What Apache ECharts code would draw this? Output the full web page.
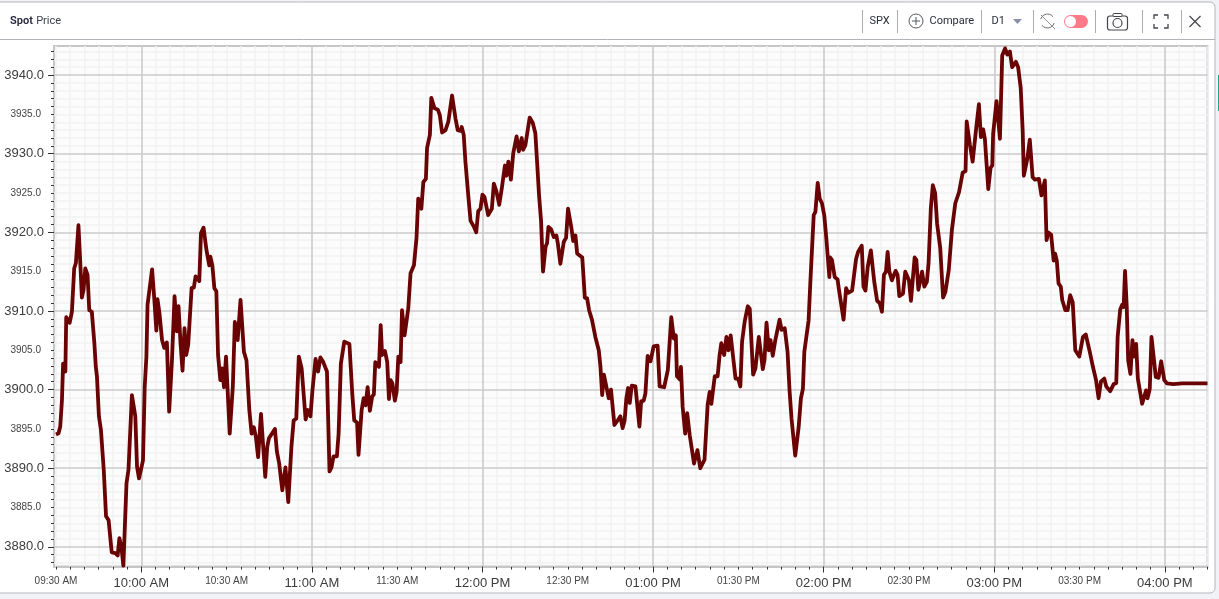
<!DOCTYPE html>
<html><head><meta charset="utf-8">
<style>html,body{margin:0;padding:0;background:#f0f2f8;width:1219px;height:599px;overflow:hidden}#c{width:1219px;height:599px}</style>
<script src="https://cdn.jsdelivr.net/npm/echarts@6/dist/echarts.min.js"></script>
</head><body><div id="c"></div>
<script>
// minutes after midnight
const times = [570,570.9,571.5,572.1,572.5,573.3,573.6,574.8,575.6,576.4,577,577.9,578.5,579.1,579.7,580.3,581.1,581.7,582.6,583.5,584,584.4,585.1,585.8,586.8,587.6,588.5,589.6,590.9,591.7,592.3,593,593.7,594.8,595.5,596.7,597.9,598.5,599.2,599.9,600.6,601.2,601.8,602.2,603.8,604.6,605.3,605.7,606.4,607.3,608.1,609,609.8,610.8,611.7,612.5,613.1,613.8,614.5,615.2,615.8,616.5,617.7,618.5,619.1,620.4,621,621.9,622.9,623.6,623.9,624.3,625,625.7,626.4,627,627.8,628.4,629.1,629.8,631.1,632.2,632.9,
633.9,634.9,636.1,637,638,638.8,639.6,640.3,641.1,641.6,642.1,643.6,644.3,644.9,647,647.7,648.5,649.6,650.7,651.7,652.8,653.6,654.5,655.4,656.4,657.8,658.6,659.5,660.2,661.3,662.2,663,664,665.3,666.2,666.9,667.6,668.8,669.4,670.2,671.4,673.2,674.2,674.9,675.9,676.4,677.5,678.2,678.9,679.6,680.4,681.2,681.8,682.3,683.6,684.2,684.7,685.7,686.5,687.1,687.7,688.3,689.2,689.8,690.4,691.2,691.7,692.6,693.9,694.7,695.9,696.8,
697.4,698,698.5,699.2,700.1,700.5,701.5,702,703.1,704.3,705,705.8,707,708,709.3,710.5,711.3,712.3,712.7,713.4,714,715,715.8,717,717.8,718.5,719.3,720,720.7,722,723.3,724,724.9,725.9,726.8,727.9,728.4,729.1,730,730.8,732,732.8,733.8,734.3,735.1,736.6,737.7,738.6,739.2,739.9,740.6,741.3,742.2,742.7,743.2,744.1,745.1,746,746.5,747.4,748.6,749.4,750.1,750.7,751.3,751.9,752.7,753.3,755.1,
756,756.8,757.5,758.5,759.7,760.9,761.5,762.1,762.7,763.3,764.4,765.2,766.4,767.6,768.5,769.3,770,770.6,771.2,771.8,772.5,773.2,773.8,774.5,775.2,775.8,776.7,777.3,778.1,779.1,780.2,781.6,782.3,783,783.9,785.2,786.4,787.3,788,788.4,789.4,789.8,790.4,791.3,792,792.9,794.4,795.6,796.6,798.1,799.2,799.9,800.5,801.7,802.7,803.4,804,805,805.8,806.5,807.3,809,809.9,810.7,811.3,812.2,813.3,814,815.2,816,817.2,818.6,819.2,819.9,820.7,821.3,822.1,823,824.5,825.2,826.3,
827.3,828,828.7,829.2,830,831.2,832,832.7,833.2,833.8,834.7,835.3,836.5,837.1,837.9,838.6,839.4,840.2,840.9,842,842.3,842.9,843.9,844.9,845.3,845.9,847,847.9,848.6,850,851.4,852.1,852.7,853.4,854,854.7,855.5,856.6,857.8,858.8,859.7,860.5,861.2,861.9,862.5,863.1,864,864.6,865.3,866,866.6,867.9,868.7,870,870.7,872,872.6,873.3,874,874.6,875.4,876.3,876.9,877.7,878.4,879.2,879.9,881,882,882.8,884,885.1,886.3,887.6,888.9,889.9,
890.3,891.4,892.4,893.6,894.6,895.3,896.1,896.7,897.9,898.7,899.3,899.6,900.8,902,902.8,903.8,904.6,905.5,906.3,907,907.6,908.4,909.3,910,910.4,911.6,912.5,913.5,914.3,915.7,916.6,917.8,918.4,919,920,920.9,921.4,922,922.6,923.4,923.9,925,925.8,926.7,927.6,928.5,929.9,931.2,932.2,933.6,934.1,934.7,935.8,936.7,937.5,938.7,939.4,940.8,942,942.9,943.4,944.3,945,945.5,946,946.6,947.1,947.9,948.6,949.2,949.9,950.5,951.1,952,952.7,953.4,953.9,954.7,955.3,956.2,956.8,957.8,958.7,959.8,960.7,963,966,970,975];
const prices = [3894.3,3894.45,3895.3,3898.7,3903.3,3902.3,3909.2,3908.5,3909.9,3915.4,3916.1,3920.9,3916.5,3911.7,3912.7,3915.4,3914.6,3910.1,3909.9,3905.9,3902.9,3901.7,3896.6,3894.9,3889.8,3883.9,3883.4,3879.3,3879.2,3878.9,3881.1,3880,3877.6,3888.1,3889.8,3899.3,3896.6,3890.2,3888.7,3888.6,3891,3900.3,3904.2,3910.8,3915.3,3911.4,3907.5,3911.5,3909.7,3906.3,3905.3,3906,3897.2,3903.8,3911.9,3907.4,3910.6,3905.9,3902.4,3907.8,3904.4,3905.7,3912.9,3913,3914.4,3913.8,3919.9,3920.6,3917.8,3917.8,3915.8,3916.9,3915.8,3912.9,3912.5,3904.4,3901.2,3902.7,3900.3,3904.2,3894.4,3900.4,3908.6,
3906.3,3911.4,3904.8,3903.7,3897.4,3894.4,3895.2,3894,3891.4,3891.5,3896.9,3888.9,3892.7,3893.8,3895,3892.1,3890.6,3887.2,3890.1,3885.7,3892.7,3896.1,3896.3,3904.2,3902.7,3896.2,3897.4,3896.6,3899.9,3903.9,3902.3,3904.1,3903.5,3902.3,3889.6,3890.1,3891.5,3891.5,3894.4,3903.3,3906.1,3905.8,3899.5,3896.1,3895.8,3891.7,3897.4,3898.9,3898,3900.3,3897.3,3899.1,3899.4,3903.5,3902.9,3908.2,3904.4,3904.9,3903.5,3898.8,3901.2,3900.8,3898.6,3899.7,3904.2,3903.5,3910.1,3906.9,3910.3,3914.8,3915.8,3919.3,
3924.3,3924.3,3923,3926.4,3926.8,3930.7,3932.4,3937.1,3935.8,3935.6,3934.9,3932.7,3933,3934.1,3937.4,3934.5,3933,3932.9,3933.4,3932.4,3929,3924.7,3921.5,3920.7,3920,3922.7,3923,3924.8,3924.5,3922.2,3923,3926.2,3925.2,3923.5,3925.6,3928.5,3927.2,3929,3926.7,3930,3932.2,3930.3,3932,3930.5,3931.1,3934.6,3933.9,3932.6,3929,3924.7,3921.5,3915,3918.2,3918.6,3920.7,3920.4,3919.4,3919.6,3918.6,3916,3918.8,3919.3,3923,3923.2,3920.5,3918.9,3919.6,3917.3,3916.8,
3911.7,3911.6,3910.1,3908.9,3906.7,3905,3902.9,3899.3,3901.9,3901.9,3898.9,3900,3895.5,3896.1,3896.6,3895.1,3896.1,3898.9,3900.2,3898.3,3900.5,3900.3,3900.4,3900.6,3895.3,3898.5,3898.6,3899.5,3904.3,3903.6,3905.5,3905.6,3900.4,3900.6,3900.3,3902.5,3909.2,3906.5,3906.9,3901.7,3901.3,3902.9,3897.8,3894.4,3897,3894.2,3890.6,3892.3,3890,3891.1,3898.1,3899.7,3898.2,3901.7,3901.7,3904.4,3905.9,3904.4,3906.7,3905,3906.9,3901.4,3901.4,3900.4,3906.1,3908.6,3910.6,3910.3,3901.9,3902.7,3906.7,3902.6,3903.8,3908.5,3905,3906.3,3904.3,3906.3,3908.9,3907.6,3907.8,
3904.8,3899.9,3896.3,3896.2,3891.6,3895.2,3898.9,3900.1,3904.8,3904.8,3908.8,3913.5,3922.2,3922.6,3926.3,3924.3,3923.7,3922.2,3919.4,3914.3,3916.8,3916.5,3914.3,3914,3912.9,3912.7,3908.9,3912.9,3912.3,3912.6,3916.6,3917.5,3917.5,3918.3,3913.1,3912.6,3915.6,3917.7,3913.7,3911.3,3911,3909.9,3914.6,3915,3917.5,3915,3913.9,3913.7,3915.1,3914.6,3911.9,3912.2,3915,3913.9,3911.3,3916.8,3916.5,3912.7,3913.9,3915,3913.1,3913.7,3916.1,3923.1,3926,3925,3921.1,3918,3911.7,3912.4,3915.2,3920.3,3923.7,3925.1,3927.6,3927.8,
3934.1,3931.2,3929,3933.1,3936.3,3932.1,3933.1,3931.9,3925.5,3928.2,3928.5,3932.5,3936.7,3931.9,3942.5,3943.4,3942.6,3943,3941,3940.8,3941.7,3941,3938.4,3932.9,3927.2,3929.3,3931.8,3927,3926.7,3926.8,3924.7,3926.6,3919,3920,3919.7,3916.4,3917.3,3916.4,3913.5,3913.1,3911.4,3910.1,3910.1,3912,3911.1,3905,3904.2,3906.7,3907,3904.8,3904.6,3902.9,3901.2,3898.9,3901,3901.4,3900.4,3899.8,3900.7,3900.8,3906.7,3910.2,3910.8,3910.5,3915.1,3910.5,3903.7,3902,3906.3,3904.2,3905.8,3901.4,3901.3,3898.2,3898,3899.9,3898.9,3900.1,3906.7,3903.7,3901.6,3901.5,3903.6,3901.2,3900.8,3900.7,3900.8,3900.8,3900.8];

const xMin = 569.3, xMax = 975, yMin = 3877.5, yMax = 3943.7;
const hourTicks = [600,660,720,780,840,900,960];
const timeLabelTicks = [570,600,630,660,690,720,750,780,810,840,870,900,930,960];
const timeLabels = ['09:30 AM','10:00 AM','10:30 AM','11:00 AM','11:30 AM','12:00 PM','12:30 PM','01:00 PM','01:30 PM','02:00 PM','02:30 PM','03:00 PM','03:30 PM','04:00 PM'];
const priceMajor = [3880,3890,3900,3910,3920,3930,3940];
const priceLabelTicks = [3880,3885,3890,3895,3900,3905,3910,3915,3920,3925,3930,3935,3940];
const fiveMinTicks = []; for (let t = 570; t <= 975; t += 5) fiveMinTicks.push(t);
const unitTicks = []; for (let v = 3878; v <= 3943; v++) unitTicks.push(v);

const lineData = times.map((t, i) => [t, prices[i]]);
const minorV = fiveMinTicks.filter(t => !hourTicks.includes(t)).map(t => ({xAxis: t}));
const minorH = unitTicks.filter(v => !priceMajor.includes(v)).map(v => ({yAxis: v}));
const majorV = hourTicks.map(t => ({xAxis: t}));
const majorH = priceMajor.map(v => ({yAxis: v}));
const FONT = '"Liberation Sans", Arial, sans-serif';
const UI = 'Roboto, Inter, sans-serif';
const timeLabelOf = v => timeLabels[timeLabelTicks.indexOf(v)] || '';

function sep(x){return {type:'line',shape:{x1:x,y1:10,x2:x,y2:33},style:{stroke:'#a9adb3',lineWidth:1}};}
function txt(x,y,t,o){return {type:'text',x,y,style:Object.assign({text:t,fill:'#2b2d3a',font:'11px '+UI,textVerticalAlign:'middle'},o||{})};}
const iconStroke = {stroke:'#55585f',lineWidth:1,fill:null};
const chrome = [
 {type:'rect',z:-10,shape:{x:-2,y:2,width:1217,height:591,r:[0,5,5,0]},style:{fill:'#fff',stroke:'#b4b6bc',lineWidth:1}},
 {type:'line',shape:{x1:0,y1:39.5,x2:1215,y2:39.5},style:{stroke:'#b0b2b8',lineWidth:1}},
 {type:'rect',shape:{x:1218,y:75,width:1,height:36},style:{fill:'#1fa98a'}},
 {type:'text',x:10,y:21,style:{text:'{a|Spot} {b|Price}',rich:{a:{fontSize:11,fontWeight:600,fontFamily:'Roboto',fill:'#23253a'},b:{fontSize:11,fontFamily:'Roboto',fill:'#3a3c48'}},textVerticalAlign:'middle'}},
 sep(862.5),sep(897.5),sep(981.5),sep(1033.5),sep(1095.5),sep(1142.5),sep(1181.5),
 txt(869.5,21,'SPX'),
 {type:'circle',shape:{cx:916,cy:21,r:7},style:iconStroke},
 {type:'line',shape:{x1:912,y1:21,x2:920,y2:21},style:iconStroke},
 {type:'line',shape:{x1:916,y1:17,x2:916,y2:25},style:iconStroke},
 txt(929.5,21,'Compare'),
 txt(991.5,21,'D1'),
 {type:'polygon',shape:{points:[[1013,19],[1022,19],[1017.5,24]]},style:{fill:'#8a90a8'}},
 {type:'line',shape:{x1:1041,y1:15,x2:1055,y2:29},style:{stroke:'#8c8f94',lineWidth:1}},
 {type:'arc',shape:{cx:1047.5,cy:21,r:7,startAngle:3.4,endAngle:5.6},style:{stroke:'#6d7075',lineWidth:1,fill:null}},
 {type:'arc',shape:{cx:1047.5,cy:21,r:7,startAngle:0.3,endAngle:2.5},style:{stroke:'#6d7075',lineWidth:1,fill:null}},
 {type:'rect',shape:{x:1064,y:15,width:24,height:13,r:6.5},style:{fill:'#ff7a88'}},
 {type:'circle',shape:{cx:1070.5,cy:21.5,r:5.5},style:{fill:'#fff'}},
 {type:'rect',shape:{x:1107.5,y:16,width:20,height:14,r:2.5},style:{stroke:'#44464c',lineWidth:1.2,fill:'#fff'}},
 {type:'rect',shape:{x:1113,y:13.5,width:9,height:3,r:1},style:{stroke:'#44464c',lineWidth:1,fill:'#fff'}},
 {type:'circle',shape:{cx:1117.5,cy:23,r:4.5},style:{stroke:'#44464c',lineWidth:1.2,fill:'#fff'}},
 {type:'polyline',shape:{points:[[1154,19],[1154,15],[1158,15]]},style:{stroke:'#44464c',lineWidth:1.3,fill:null}},
 {type:'polyline',shape:{points:[[1164,15],[1168,15],[1168,19]]},style:{stroke:'#44464c',lineWidth:1.3,fill:null}},
 {type:'polyline',shape:{points:[[1154,24],[1154,28],[1158,28]]},style:{stroke:'#44464c',lineWidth:1.3,fill:null}},
 {type:'polyline',shape:{points:[[1164,28],[1168,28],[1168,24]]},style:{stroke:'#44464c',lineWidth:1.3,fill:null}},
 {type:'line',shape:{x1:1189.5,y1:16,x2:1200.5,y2:27},style:{stroke:'#44464c',lineWidth:1.2}},
 {type:'line',shape:{x1:1200.5,y1:16,x2:1189.5,y2:27},style:{stroke:'#44464c',lineWidth:1.2}}
];
const frameLine = {show:true,lineStyle:{color:'#c6c6c6',width:2}};
const chart = echarts.init(document.getElementById('c'),null,{renderer:'canvas'});
chart.setOption({
 animation:false,
 backgroundColor:'transparent',
 graphic:chrome,
 grid:{left:54,top:46,right:11.5,bottom:32.5,show:true,backgroundColor:'#fcfcfc',borderColor:'#c6c6c6',borderWidth:2},
 xAxis:[
  {type:'value',min:xMin,max:xMax,position:'bottom',splitLine:{show:false},axisLine:frameLine,
   axisLabel:{show:false},axisTick:{show:true,customValues:fiveMinTicks,length:3,inside:false,lineStyle:{color:'#333',width:1}}},
  {type:'value',min:xMin,max:xMax,position:'bottom',splitLine:{show:false},axisLine:{show:false},
   axisTick:{show:true,customValues:hourTicks,length:6,lineStyle:{color:'#333',width:1}},
   axisLabel:{show:true,customValues:timeLabelTicks,margin:10,hideOverlap:false,showMinLabel:true,showMaxLabel:true,
     formatter:v=>{const s=timeLabelOf(v);return hourTicks.includes(v)?'{a|'+s+'}':'{b|'+s+'}';},
     rich:{a:{fontSize:13,fontFamily:'Liberation Sans',color:'#3c3c3c',fontWeight:500},b:{fontSize:10,fontFamily:'Liberation Sans',color:'#444'}}}}
 ],
 yAxis:[
  {type:'value',min:yMin,max:yMax,position:'left',splitLine:{show:false},axisLine:frameLine,
   axisLabel:{show:false},axisTick:{show:true,customValues:unitTicks,length:3,lineStyle:{color:'#333',width:1}}},
  {type:'value',min:yMin,max:yMax,position:'left',splitLine:{show:false},axisLine:{show:false},
   axisTick:{show:true,customValues:priceMajor,length:6,lineStyle:{color:'#333',width:1}},
   axisLabel:{show:true,customValues:priceLabelTicks,margin:10,
     formatter:v=>priceMajor.includes(v)?'{a|'+v.toFixed(1)+'}':'{b|'+v.toFixed(1)+'}',
     rich:{a:{fontSize:13,fontFamily:'Liberation Sans',color:'#3c3c3c'},b:{fontSize:10,fontFamily:'Liberation Sans',color:'#444',padding:[0,3,0,0]}}}}
 ],
 series:[
  {type:'line',data:[],z:1,silent:true,markLine:{silent:true,symbol:'none',label:{show:false},animation:false,
    lineStyle:{color:'#f2f2f2',width:1.5,type:'solid'},data:minorV.concat(minorH)}},
  {type:'line',data:[],z:2,silent:true,markLine:{silent:true,symbol:'none',label:{show:false},animation:false,
    lineStyle:{color:'#cbcbcb',width:1.6,type:'solid'},data:majorV.concat(majorH)}},
  {type:'line',name:'SPX',data:lineData,showSymbol:false,smooth:false,z:5,clip:true,
    lineStyle:{color:'#6a0404',width:3.8,join:'round'}}
 ]
});
</script></body></html>
